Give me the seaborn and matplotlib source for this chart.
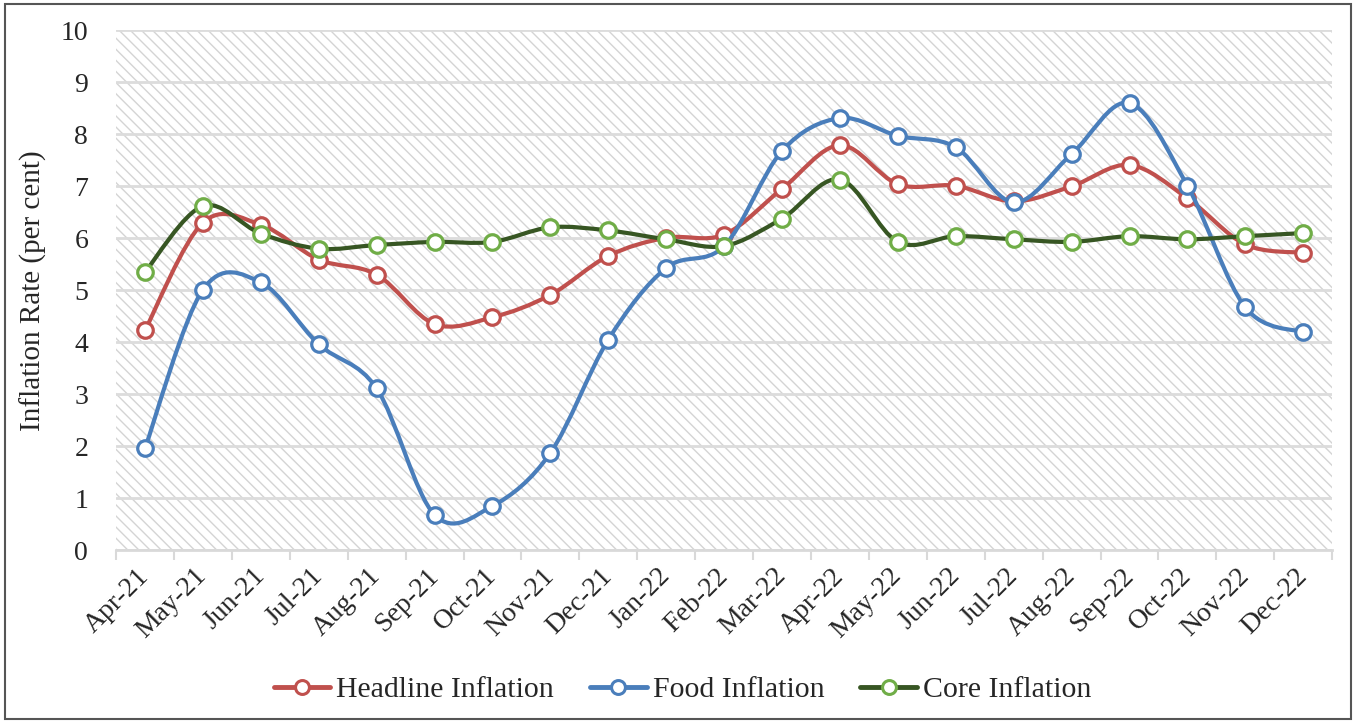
import numpy as np
import matplotlib
matplotlib.use("Agg")
import matplotlib.pyplot as plt
import seaborn as sns
from matplotlib.path import Path
from matplotlib.patches import PathPatch, Rectangle
from matplotlib.lines import Line2D

# Data
months = ["Apr-21", "May-21", "Jun-21", "Jul-21", "Aug-21", "Sep-21", "Oct-21",
          "Nov-21", "Dec-21", "Jan-22", "Feb-22", "Mar-22", "Apr-22", "May-22",
          "Jun-22", "Jul-22", "Aug-22", "Sep-22", "Oct-22", "Nov-22", "Dec-22"]
headline = [4.23, 6.30, 6.26, 5.59, 5.30, 4.35, 4.48, 4.91, 5.66, 6.01, 6.07,
            6.95, 7.79, 7.04, 7.01, 6.71, 7.00, 7.41, 6.77, 5.88, 5.72]
food = [1.96, 5.01, 5.15, 3.96, 3.11, 0.68, 0.85, 1.87, 4.05, 5.43, 5.85,
        7.68, 8.31, 7.97, 7.75, 6.69, 7.62, 8.60, 7.01, 4.67, 4.19]
core = [5.35, 6.62, 6.09, 5.80, 5.87, 5.93, 5.93, 6.21, 6.15, 5.98, 5.85,
        6.38, 7.13, 5.93, 6.04, 5.98, 5.93, 6.04, 5.98, 6.04, 6.10]

series = [
    ("Headline Inflation", headline, "#C0504D", "#C0504D"),
    ("Food Inflation", food, "#4A7EBB", "#4A7EBB"),
    ("Core Inflation", core, "#375623", "#70AD47"),
]

sns.set_theme(style="white", rc={"hatch.linewidth": 1.0})
plt.rcParams["font.family"] = ["Liberation Serif", "DejaVu Serif"]

fig = plt.figure(figsize=(13.65, 7.22), dpi=100)
ax = fig.add_axes([0.085, 0.238, 0.891, 0.720])

x = np.arange(len(months))


def smooth_path(xs, ys):
    # Excel-style smoothed line: cubic Bezier through the points
    pts = np.column_stack([xs, ys]).astype(float)
    n = len(pts)
    verts = [pts[0]]
    codes = [Path.MOVETO]
    for i in range(n - 1):
        p0 = pts[i - 1] if i > 0 else pts[i]
        p1 = pts[i]
        p2 = pts[i + 1]
        p3 = pts[i + 2] if i + 2 < n else pts[i + 1]
        c1 = p1 + (p2 - p0) / 6.0
        c2 = p2 - (p3 - p1) / 6.0
        verts += [c1, c2, p2]
        codes += [Path.CURVE4] * 3
    return Path(verts, codes)


# Hatched plot background
bg = Rectangle((0, 0), 1, 1, transform=ax.transAxes, facecolor="white",
               edgecolor="#d4d4d4", hatch="\\\\\\", linewidth=0, zorder=0.2)
ax.add_patch(bg)

handles = []
for i, (name, vals, lcol, mcol) in enumerate(series):
    patch = PathPatch(smooth_path(x, vals), facecolor="none", edgecolor=lcol,
                      linewidth=3.0, zorder=3 + 2 * i, capstyle="round",
                      joinstyle="round")
    ax.add_patch(patch)
    sns.scatterplot(x=x, y=vals, marker="o", s=125, color="white",
                    edgecolor=mcol, linewidth=2.3, zorder=4 + 2 * i, ax=ax,
                    legend=False)
    handles.append(Line2D([0], [0], color=lcol, lw=3.5, marker="o",
                          markersize=10, markerfacecolor="white",
                          markeredgecolor=mcol, markeredgewidth=2.2))

# Axes
ax.set_xlim(-0.5, len(months) - 0.5)
ax.set_ylim(0, 10)
ax.set_yticks(range(0, 11))
ax.set_xticks(x)
ax.set_xticklabels(months, rotation=45, ha="right", va="center",
                   rotation_mode="anchor")
ax.set_xticks(np.arange(-0.5, len(months)), minor=True)
ax.tick_params(axis="x", which="major", length=0, pad=16, labelsize=20)
ax.tick_params(axis="x", which="minor", length=7, width=1.5, color="#d9d9d9",
               direction="out", bottom=True)
ax.tick_params(axis="y", length=0, pad=20, labelsize=20)
ax.set_ylabel("Inflation Rate (per cent)", fontsize=21, labelpad=10)

ax.grid(True, axis="y", color="#dcdcdc", linewidth=2)
ax.grid(False, axis="x")
ax.set_axisbelow(True)
for side in ["top", "right", "left"]:
    ax.spines[side].set_visible(False)
ax.spines["bottom"].set_color("#d9d9d9")
ax.spines["bottom"].set_linewidth(2)

# Legend
fig.legend(handles, [s[0] for s in series], loc="center",
           bbox_to_anchor=(0.5, 0.045), ncol=3, frameon=False, fontsize=21.5,
           handlelength=1.9, handletextpad=0.2, columnspacing=1.2)

# Outer chart border
fig.patches.append(Rectangle((0.004, 0.004), 0.986, 0.99, transform=fig.transFigure,
                             fill=False, edgecolor="#555555", linewidth=1.5))

fig.savefig("out.png", dpi=100)
